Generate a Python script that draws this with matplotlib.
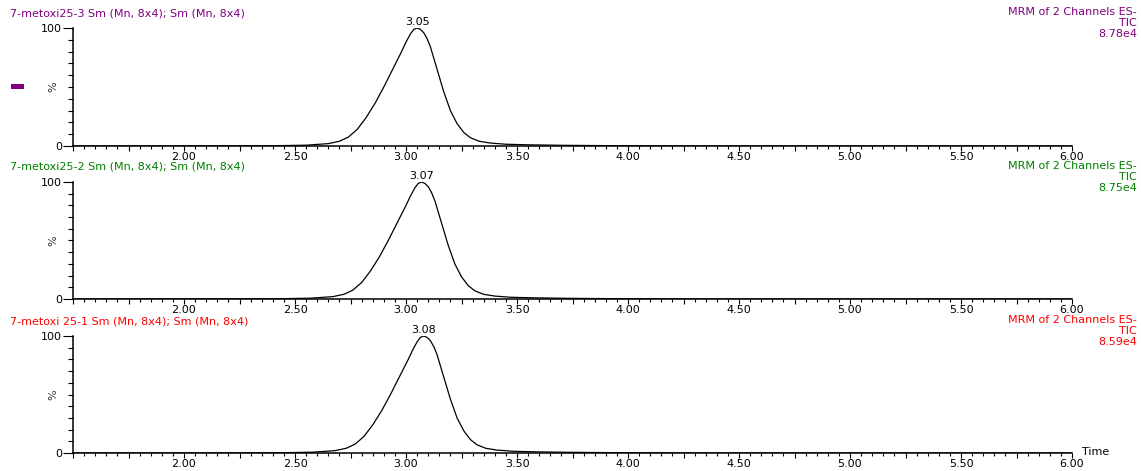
import matplotlib
matplotlib.use("Agg")
import matplotlib.pyplot as plt
from matplotlib.patches import Rectangle
from matplotlib.ticker import MultipleLocator, FuncFormatter

W, H = 1141, 471

# chromatogram traces (time, relative intensity %)
t_25_3 = [1.50, 2.40, 2.55, 2.65, 2.70, 2.74, 2.78, 2.82, 2.86, 2.90, 2.94, 2.98, 3.00, 3.02, 3.035, 3.05,
          3.065, 3.08, 3.095, 3.11, 3.14, 3.17, 3.20, 3.23, 3.26, 3.29, 3.33, 3.38, 3.45, 3.55, 3.70, 3.90, 4.30, 6.00]
i_25_3 = [0, 0.2, 0.7, 2.0, 4.0, 7.5, 14, 24, 36, 50, 65, 80, 88, 95, 98.8, 100,
          98.8, 96, 91, 84, 65, 46, 30, 19, 11.5, 7, 4, 2.5, 1.5, 1.0, 0.6, 0.3, 0, 0]

t_25_2 = [1.50, 2.42, 2.57, 2.67, 2.72, 2.76, 2.80, 2.84, 2.88, 2.92, 2.96, 3.00, 3.02, 3.04, 3.055, 3.07,
          3.085, 3.10, 3.115, 3.13, 3.16, 3.19, 3.22, 3.25, 3.28, 3.31, 3.35, 3.40, 3.47, 3.57, 3.72, 3.92, 4.32, 6.00]
i_25_2 = [0, 0.2, 0.7, 2.0, 4.0, 7.5, 14, 24, 36, 50, 65, 80, 88, 95, 98.8, 100,
          98.8, 96, 91, 84, 65, 46, 30, 19, 11.5, 7, 4, 2.5, 1.5, 1.0, 0.6, 0.3, 0, 0]

t_25_1 = [1.50, 2.43, 2.58, 2.68, 2.73, 2.77, 2.81, 2.85, 2.89, 2.93, 2.97, 3.01, 3.03, 3.05, 3.065, 3.08,
          3.095, 3.11, 3.125, 3.14, 3.17, 3.20, 3.23, 3.26, 3.29, 3.32, 3.36, 3.41, 3.48, 3.58, 3.73, 3.93, 4.33, 6.00]
i_25_1 = [0, 0.2, 0.7, 2.0, 4.0, 7.5, 14, 24, 36, 50, 65, 80, 88, 95, 98.8, 100,
          98.8, 96, 91, 84, 65, 46, 30, 19, 11.5, 7, 4, 2.5, 1.5, 1.0, 0.6, 0.3, 0, 0]

titles = ["7-metoxi25-3 Sm (Mn, 8x4); Sm (Mn, 8x4)",
          "7-metoxi25-2 Sm (Mn, 8x4); Sm (Mn, 8x4)",
          "7-metoxi 25-1 Sm (Mn, 8x4); Sm (Mn, 8x4)"]
peak_times = [3.05, 3.07, 3.08]
intensities = ["8.78e4", "8.75e4", "8.59e4"]
colors = ["#800080", "#008000", "#ff0000"]
traces = [(t_25_3, i_25_3), (t_25_2, i_25_2), (t_25_1, i_25_1)]

# panel pixel geometry: y of 100% and y of 0%
panel_px = [(28, 146), (182, 299), (336, 453)]
title_y = [13, 167, 321]
x_left, x_right = 73, 1072

FONT = "DejaVu Sans"
FS = 8

fig = plt.figure(figsize=(W / 100, H / 100), dpi=100)


def fx(px):
    return px / W


def fy(py):
    return 1 - py / H


def xlab(v, pos):
    if v >= 1.99 and abs(v / 0.5 - round(v / 0.5)) < 1e-6:
        return "{:.2f}".format(v)
    return ""


for k in range(3):
    top, bot = panel_px[k]
    ax = fig.add_axes([fx(x_left), fy(bot), fx(x_right - x_left), (bot - top) / H])
    t, y = traces[k]
    ax.plot(t, y, color="black", lw=0.9)
    ax.set_xlim(1.5, 6.0)
    ax.set_ylim(0, 100)
    for s in ["top", "right"]:
        ax.spines[s].set_visible(False)
    for s in ["left", "bottom"]:
        ax.spines[s].set_linewidth(1.1)
    ax.xaxis.set_major_locator(MultipleLocator(0.25))
    ax.xaxis.set_minor_locator(MultipleLocator(0.05))
    ax.xaxis.set_major_formatter(FuncFormatter(xlab))
    ax.yaxis.set_major_locator(MultipleLocator(100))
    ax.yaxis.set_minor_locator(MultipleLocator(10))
    ax.tick_params(axis="x", which="major", length=3.5, width=0.8, pad=0.5, labelsize=FS)
    ax.tick_params(axis="x", which="minor", length=2, width=0.8)
    ax.tick_params(axis="y", which="major", length=7, width=0.8, pad=1, labelsize=FS)
    ax.tick_params(axis="y", which="minor", length=3.5, width=0.8)
    for lb in ax.get_xticklabels() + ax.get_yticklabels():
        lb.set_family(FONT)
    ax.set_ylabel("%", fontsize=FS, family=FONT, color="#333333")
    ax.yaxis.set_label_coords(-0.015, 0.5)

    ax.annotate("{:.2f}".format(peak_times[k]), (peak_times[k], 100), xytext=(0, 1),
                textcoords="offset points", ha="center", va="bottom", fontsize=FS, family=FONT)

    c = colors[k]
    fig.text(fx(10), fy(title_y[k]), titles[k], color=c, fontsize=FS, family=FONT, ha="left", va="center")
    fig.text(fx(1137), fy(title_y[k] - 6), "MRM of 2 Channels ES-\nTIC\n" + intensities[k],
             color=c, fontsize=FS, family=FONT, ha="right", va="top", multialignment="right",
             linespacing=1.12)

fig.text(fx(1082), fy(452), "Time", fontsize=FS, family=FONT, ha="left", va="center")
fig.patches.append(Rectangle((fx(11), fy(89)), fx(13), 5 / H, transform=fig.transFigure,
                             facecolor="#800080", edgecolor="none"))

fig.savefig("out.png", dpi=100)
